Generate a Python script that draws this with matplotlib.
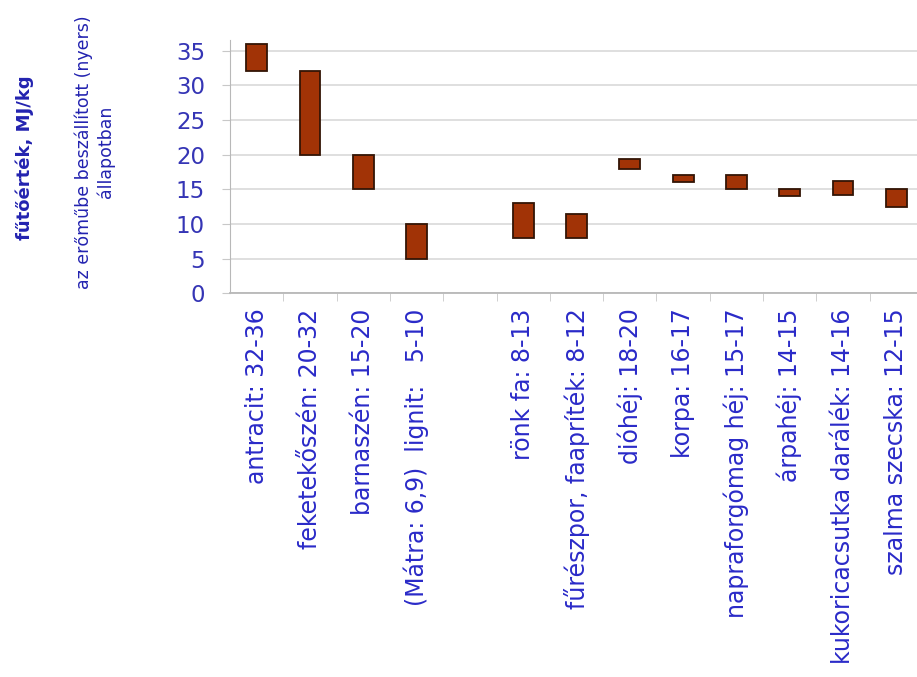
import matplotlib.pyplot as plt
import numpy as np

# energy sources (fuel value range, MJ/kg); empty slot separates coal from biomass
labels = ["antracit: 32-36", "feketekőszén: 20-32", "barnaszén: 15-20",
          "(Mátra: 6,9)  lignit:   5-10", "",
          "rönk fa: 8-13", "fűrészpor, faapríték: 8-12", "dióhéj: 18-20",
          "korpa: 16-17", "napraforgómag héj: 15-17", "árpahéj: 14-15",
          "kukoricacsutka darálék: 14-16", "szalma szecska: 12-15"]
low = [32, 20, 15, 5, np.nan, 8, 8, 18, 16, 15, 14, 14.2, 12.5]
high = [36, 32, 20, 10, np.nan, 13, 11.5, 19.4, 17, 17, 15, 16.2, 15]
yticks = [0, 5, 10, 15, 20, 25, 30, 35]

BLUE = "#2a2ac8"
fig = plt.figure(figsize=(9.17, 6.77), dpi=100)
ax = fig.add_axes([230 / 917, 383.7 / 677, 693 / 917, 253 / 677])

x = np.arange(len(labels))
lo = np.array(low, dtype=float)
hi = np.array(high, dtype=float)
ok = ~np.isnan(lo)
ax.bar(x[ok], hi[ok] - lo[ok], bottom=lo[ok], width=0.39,
       color="#a13306", edgecolor="#331505", linewidth=1.3, zorder=3)

ax.set_xlim(-0.5, len(labels) - 0.5)
ax.set_ylim(0, 36.5)
ax.set_yticks(yticks)
ax.set_xticks(x)
ax.set_xticklabels(labels, rotation=90, fontsize=17, color=BLUE)
ax.set_xticks(x[:-1] + 0.5, minor=True)
ax.tick_params(axis="x", which="major", length=0, pad=11)
ax.tick_params(axis="x", which="minor", length=6, color="#c8c8c8", direction="out")
ax.tick_params(axis="y", length=6, color="#c8c8c8", pad=12,
               labelsize=16.5, labelcolor="#3535b5")
ax.grid(axis="y", color="#d9d9d9", linewidth=1.2, zorder=0)

for s in ["top", "right"]:
    ax.spines[s].set_visible(False)
ax.spines["left"].set_color("#b8b8b8")
ax.spines["bottom"].set_color("#b8b8b8")
ax.spines["bottom"].set_linewidth(1.3)

fig.text(25 / 917, 1 - 158 / 677, "fűtőérték, MJ/kg", rotation=90,
         ha="center", va="center", fontsize=13, fontweight="bold", color="#2323b0")
fig.text(95 / 917, 1 - 152 / 677, "az erőműbe beszállított (nyers)\nállapotban",
         rotation=90, ha="center", va="center", fontsize=12.5, color="#2323b0",
         multialignment="center", linespacing=1.25)

fig.savefig("out.png", dpi=100)
